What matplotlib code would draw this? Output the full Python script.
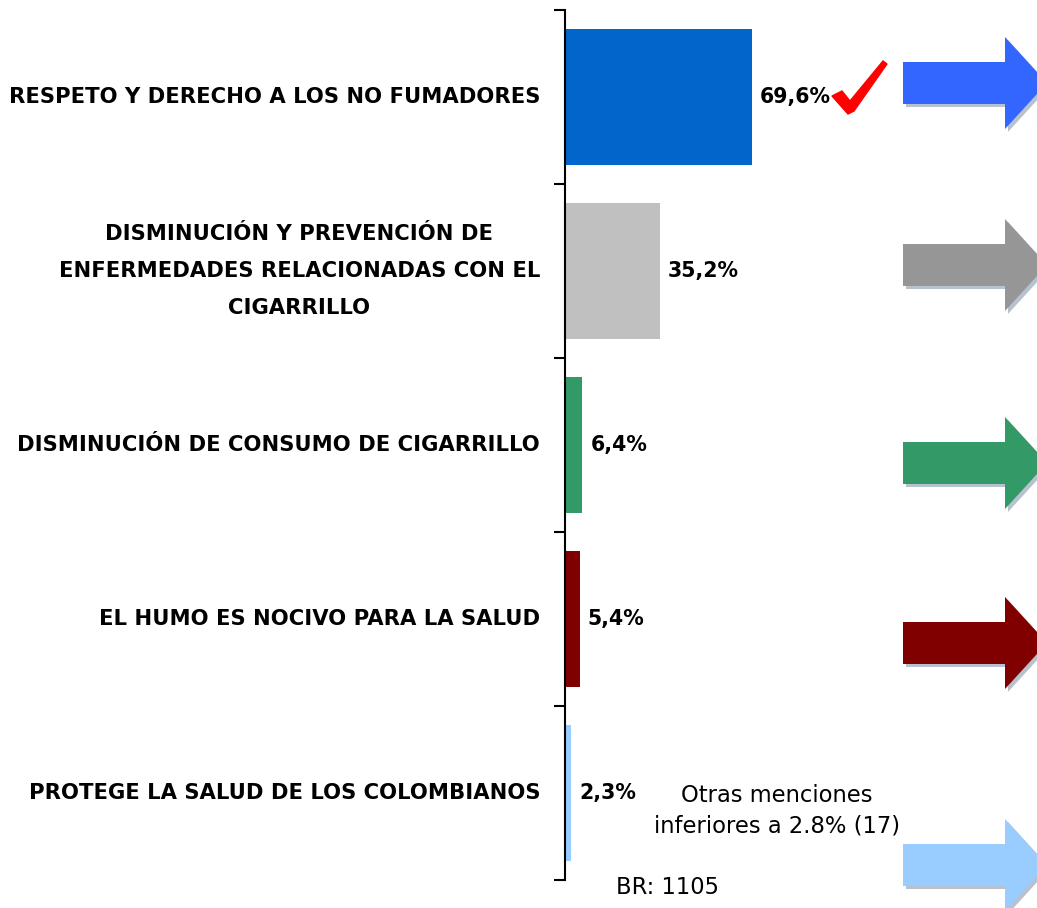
import matplotlib
matplotlib.use("Agg")
import matplotlib.pyplot as plt
from matplotlib.patches import FancyArrow, Polygon
import numpy as np

categories = [
    "RESPETO Y DERECHO A LOS NO FUMADORES",
    "DISMINUCIÓN Y PREVENCIÓN DE\nENFERMEDADES RELACIONADAS CON EL\nCIGARRILLO",
    "DISMINUCIÓN DE CONSUMO DE CIGARRILLO",
    "EL HUMO ES NOCIVO PARA LA SALUD",
    "PROTEGE LA SALUD DE LOS COLOMBIANOS",
]
values = [69.6, 35.2, 6.4, 5.4, 2.3]
value_labels = ["69,6%", "35,2%", "6,4%", "5,4%", "2,3%"]
bar_colors = ["#0066CC", "#C0C0C0", "#339966", "#800000", "#99CCFF"]
arrow_colors = ["#3366FF", "#969696", "#339966", "#800000", "#99CCFF"]
arrow_centers_px = [83, 265, 463, 643, 865]  # y of each arrow in figure pixels (from top)
note_text = "Otras menciones\ninferiores a 2.8% (17)"
base_text = "BR: 1105"

W, H = 1037, 908
fig = plt.figure(figsize=(W / 100, H / 100), dpi=100)
ax = fig.add_axes([565 / W, 1 - 880 / H, (W - 565) / W, 870 / H])

y = np.arange(len(values))
ax.barh(y, values, height=0.78, color=bar_colors, zorder=2)
ax.set_ylim(len(values) - 0.5, -0.5)
ax.set_xlim(0, (W - 565) / 2.687)

for spine in ["top", "right", "bottom"]:
    ax.spines[spine].set_visible(False)
ax.spines["left"].set_linewidth(1.5)
ax.set_xticks([])
ax.set_yticks(np.arange(len(values) + 1) - 0.5)
ax.set_yticklabels([])
ax.tick_params(axis="y", length=8, width=1.5, direction="out")

for i, (v, lab) in enumerate(zip(values, value_labels)):
    ax.text(v + 3.0, i, lab, va="center", ha="left", fontsize=14.8,
            fontweight="bold", color="black")

for i, cat in enumerate(categories):
    ax.text(-9.3, i, cat, va="center", ha="right", multialignment="center",
            fontsize=15.2, fontweight="bold", linespacing=2.05,
            transform=ax.transData, clip_on=False)

# red check mark next to the top value
ck = np.array([[832, 96], [842, 91], [850, 101], [883, 61], [887, 64], [854, 111], [848, 114]],
              dtype=float)
ck[:, 1] = H - ck[:, 1]
fig.patches.append(Polygon(ck, closed=True, transform=None, facecolor="#FF0000",
                           edgecolor="#FF0000", linewidth=1))

# block arrows on the right (cut off by the figure edge)
for c, yc in zip(arrow_colors, arrow_centers_px):
    yc_f = H - yc
    shadow = FancyArrow(903 + 3, yc_f - 3, 102, 0, width=42, head_width=92,
                        head_length=42, length_includes_head=False, transform=None,
                        facecolor="#7F8FA6", edgecolor="none", alpha=0.55)
    arr = FancyArrow(903, yc_f, 102, 0, width=42, head_width=92,
                     head_length=42, length_includes_head=False, transform=None,
                     facecolor=c, edgecolor="none")
    fig.patches.append(shadow)
    fig.patches.append(arr)

fig.text(777 / W, 1 - 811 / H, note_text, ha="center", va="center",
         fontsize=16.3, linespacing=1.4)
fig.text(668 / W, 1 - 887 / H, base_text, ha="center", va="center", fontsize=16.3)

fig.savefig("out.png", dpi=100)
